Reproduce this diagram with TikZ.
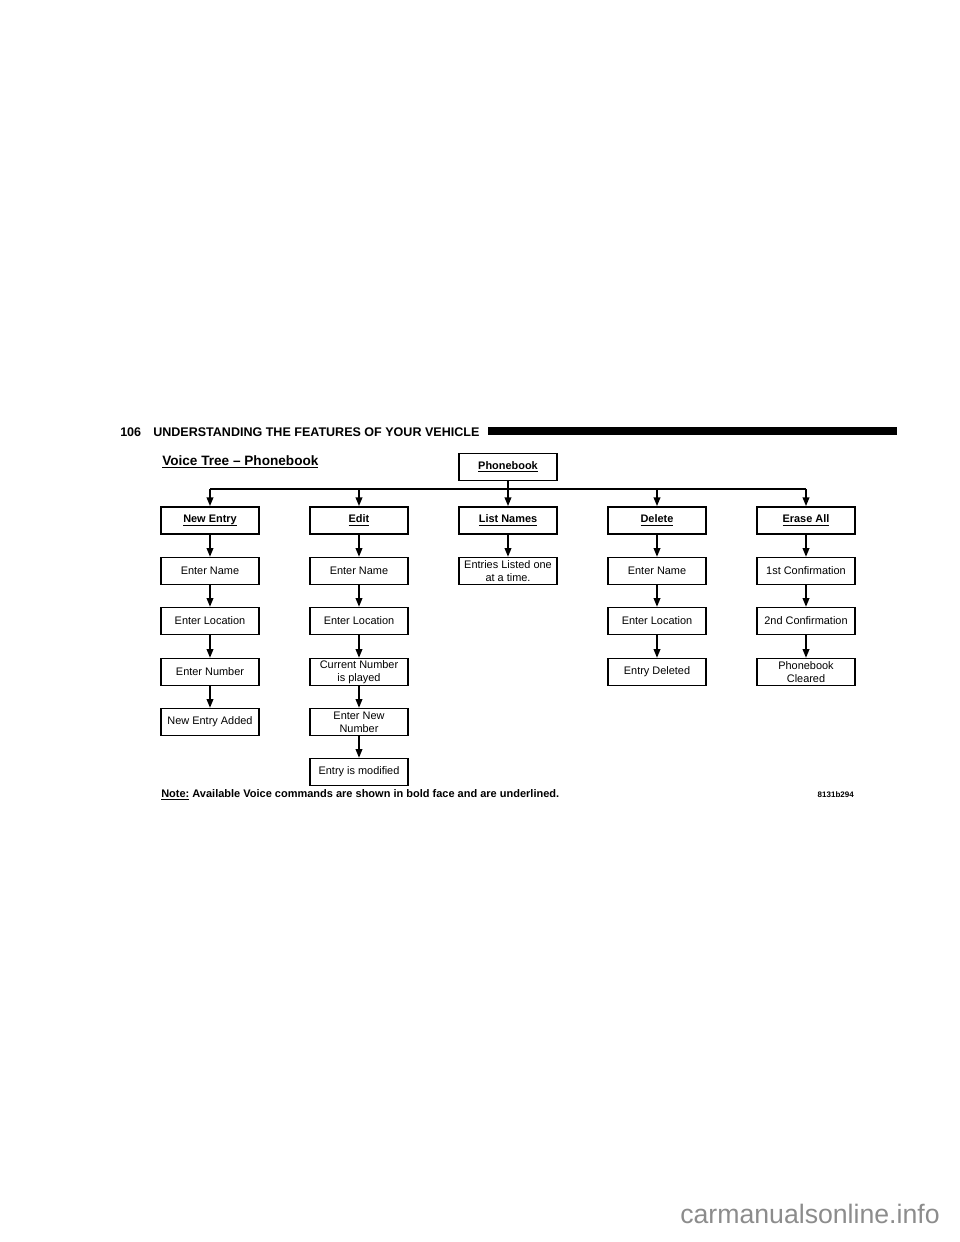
\documentclass[tikz,border=0pt]{standalone}
\usepackage{fontspec}
\setmainfont{Liberation Sans}
\usetikzlibrary{arrows.meta}
\tikzset {>={Triangle[length=6.5pt,width=5pt]}}
\newcommand\voicecmd[1]{\underline{\smash{#1}}\vphantom{Ay}}
\tikzset{
  stepbox/.style={draw,line width=1.1pt,minimum width=73.5pt,minimum height=20.25pt,
    inner sep=0pt,align=center,font=\fontsize{8.2}{9.6}\selectfont},
  cmdbox/.style={stepbox,line width=1.4pt,font=\fontsize{8.2}{9.6}\selectfont\bfseries},
  link/.style={line width=1.1pt}
}
\begin{document}
\begin{tikzpicture}[x=0.75pt,y=-0.75pt]
\useasboundingbox (0,0) rectangle (960,1242);

% page header
\node[anchor=base west,inner sep=0pt,font=\fontsize{9.4}{11}\selectfont\bfseries] (pagenum) at (120,436) {106};
\node[anchor=base west,inner sep=0pt,font=\fontsize{9.4}{11}\selectfont\bfseries] (chapter) at (153,436)
  {UNDERSTANDING THE FEATURES OF YOUR VEHICLE};
\fill (488,427) rectangle (897,435);

\node[anchor=base west,inner sep=0pt,font=\fontsize{10.2}{12}\selectfont\bfseries] (title) at (162,465)
  {\voicecmd{Voice Tree -- Phonebook}};

% top command
\node[cmdbox] (phonebook) at (508,467) {\voicecmd{Phonebook}};
\coordinate (bus) at (508,489);

% first level commands
\node[cmdbox] (newentry) at (210,520.5) {\voicecmd{New Entry}};
\node[cmdbox] (edit)     at (359,520.5) {\voicecmd{Edit}};
\node[cmdbox] (list)     at (508,520.5) {\voicecmd{List Names}};
\node[cmdbox] (delete)   at (657,520.5) {\voicecmd{Delete}};
\node[cmdbox] (erase)    at (806,520.5) {\voicecmd{Erase All}};

% new entry
\node[stepbox] (ne-name)  at (210,571) {Enter Name};
\node[stepbox] (ne-loc)   at (210,621) {Enter Location};
\node[stepbox] (ne-num)   at (210,672) {Enter Number};
\node[stepbox] (ne-added) at (210,722) {New Entry Added};

% edit
\node[stepbox] (ed-name) at (359,571) {Enter Name};
\node[stepbox] (ed-loc)  at (359,621) {Enter Location};
\node[stepbox] (ed-cur)  at (359,672) {Current Number\\is played};
\node[stepbox] (ed-new)  at (359,722) {Enter New\\Number};
\node[stepbox] (ed-mod)  at (359,772) {Entry is modified};

% list names
\node[stepbox] (li-entries) at (508,571) {Entries Listed one\\at a time.};

% delete
\node[stepbox] (de-name) at (657,571) {Enter Name};
\node[stepbox] (de-loc)  at (657,621) {Enter Location};
\node[stepbox] (de-done) at (657,672) {Entry Deleted};

% erase all
\node[stepbox] (er-first)   at (806,571) {1st Confirmation};
\node[stepbox] (er-second)  at (806,621) {2nd Confirmation};
\node[stepbox] (er-cleared) at (806,672) {Phonebook\\Cleared};

% connectors
\draw[link] (newentry |- bus) -- (erase |- bus);
\draw[link,->] (phonebook) -- (list);
\foreach \cmd in {newentry,edit,delete,erase}
  \draw[link,->] (\cmd |- bus) -- (\cmd);

\foreach \a/\b in {newentry/ne-name,ne-name/ne-loc,ne-loc/ne-num,ne-num/ne-added,
                   edit/ed-name,ed-name/ed-loc,ed-loc/ed-cur,ed-cur/ed-new,ed-new/ed-mod,
                   list/li-entries,
                   delete/de-name,de-name/de-loc,de-loc/de-done,
                   erase/er-first,er-first/er-second,er-second/er-cleared}
  \draw[link,->] (\a) -- (\b);

% footnote
\node[anchor=base west,inner sep=0pt,font=\fontsize{8.25}{9.6}\selectfont\bfseries] (note) at (161,797)
  {\voicecmd{Note:} Available Voice commands are shown in bold face and are underlined.};
\node[anchor=base east,inner sep=0pt,font=\fontsize{6}{7}\selectfont\bfseries] (figid) at (854,797) {8131b294};

\node[anchor=base west,inner sep=0pt,text=black!45,font=\fontsize{20}{23}\selectfont] (site) at (680,1223)
  {carmanualsonline.info};
\end{tikzpicture}
\end{document}
